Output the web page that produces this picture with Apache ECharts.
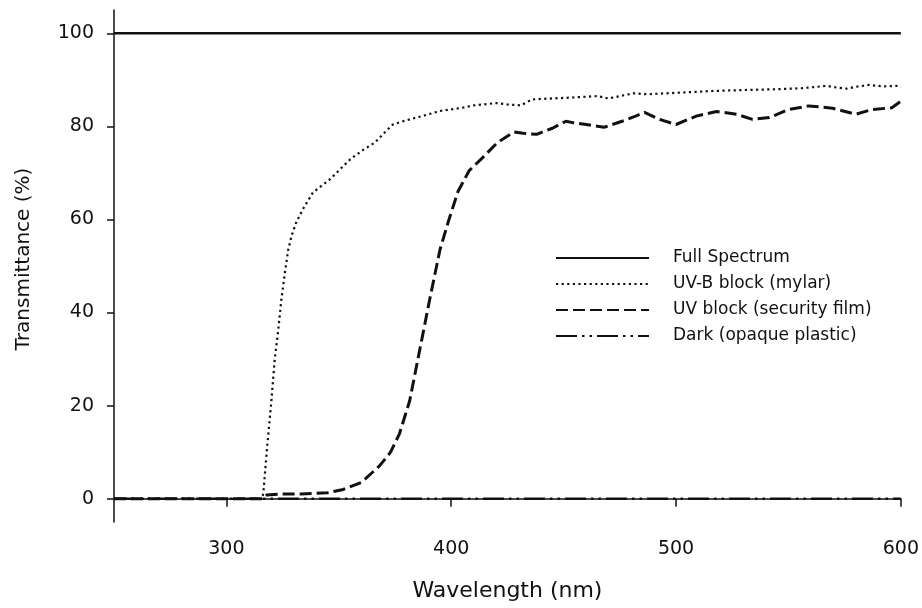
<!DOCTYPE html>
<html>
<head>
<meta charset="utf-8">
<script src="https://cdn.jsdelivr.net/npm/echarts@6/dist/echarts.min.js"></script>
<style>
html,body{margin:0;padding:0;background:#fff;}
#chart{width:922px;height:608px;}
</style>
</head>
<body>
<div id="chart"></div>
<script>
// ---- data ----
var seriesNames = ['Full Spectrum', 'UV-B block (mylar)', 'UV block (security film)', 'Dark (opaque plastic)'];

var fullWl = [250, 600];
var fullT  = [100, 100];

var mylarWl = [250, 316, 316.5, 318, 320, 321.5, 323, 324.5, 326, 327.5, 329, 331, 334, 338.5, 346, 355, 361, 366, 370, 374, 380, 387, 395, 405, 410, 420, 425, 431, 436, 445, 454, 465, 470, 481, 487, 500, 516, 530, 546, 556, 567, 572, 576, 580, 586, 592, 599, 600];
var mylarT  = [0, 0, 1.6, 10.5, 21, 30, 36, 43, 48.5, 53.5, 56.5, 59.3, 62.2, 65.8, 68.6, 72.9, 75, 76.5, 78.5, 80.4, 81.3, 82.2, 83.3, 84, 84.5, 85, 84.7, 84.5, 85.8, 86, 86.2, 86.5, 86, 87.1, 86.9, 87.2, 87.6, 87.8, 88, 88.2, 88.7, 88.3, 88.1, 88.5, 88.9, 88.6, 88.7, 88.5];

var filmWl = [250, 316, 318, 325, 333, 345, 352, 360, 368, 373, 377, 381.5, 386, 390.5, 395, 399, 403, 408, 414, 420.5, 428, 432, 438, 445, 451, 454, 460, 468, 476, 482, 486, 492.7, 500, 509, 518, 527, 534, 541.5, 550, 559, 569.6, 580, 587, 596, 600];
var filmT  = [0, 0, 0.8, 1, 1, 1.3, 2, 3.5, 7, 10, 14, 21, 32, 43, 53.5, 60, 66, 70.5, 73.3, 76.5, 78.8, 78.5, 78.3, 79.6, 81.1, 80.8, 80.4, 79.8, 81.1, 82.2, 83, 81.5, 80.4, 82.2, 83.2, 82.6, 81.5, 81.9, 83.6, 84.4, 83.9, 82.6, 83.6, 84, 85.4];

var darkWl = [250, 600];
var darkT  = [0, 0];

var xTicks = [300, 400, 500, 600];
var yTicks = [0, 20, 40, 60, 80, 100];

function pairs(xs, ys) { return xs.map(function (x, i) { return [x, ys[i]]; }); }

var FONT = 'DejaVu Sans';
var INK = '#111';

var chart = echarts.init(document.getElementById('chart'), null, {renderer: 'canvas'});
chart.setOption({
  animation: false,
  backgroundColor: '#fff',
  grid: {left: 114, right: 19, top: 10, bottom: 86, containLabel: false},
  legend: {
    orient: 'vertical',
    left: 555,
    top: 248,
    padding: 0,
    itemWidth: 93,
    itemHeight: 20,
    itemGap: 6,
    selectedMode: false,
    data: seriesNames,
    itemStyle: {opacity: 0},
    textStyle: {fontFamily: FONT, fontSize: 17, color: INK, lineHeight: 20, padding: [0, 0, 0, 19]}
  },
  xAxis: {
    type: 'value',
    min: 250,
    max: 600,
    name: 'Wavelength (nm)',
    nameLocation: 'middle',
    nameGap: 58,
    nameTextStyle: {fontFamily: FONT, fontSize: 22, color: INK},
    axisLine: {show: true, lineStyle: {color: INK, width: 1.5}},
    axisTick: {show: true, inside: false, length: 8, customValues: xTicks, lineStyle: {color: INK, width: 1.5}},
    axisLabel: {customValues: xTicks, margin: 18, fontFamily: FONT, fontSize: 19, color: INK},
    splitLine: {show: false}
  },
  yAxis: {
    type: 'value',
    min: -5,
    max: 105,
    name: 'Transmittance (%)',
    nameLocation: 'middle',
    nameGap: 80,
    nameTextStyle: {fontFamily: FONT, fontSize: 20, color: INK, padding: [0, 0, 0, 14]},
    axisLine: {show: true, lineStyle: {color: INK, width: 1.5}},
    axisTick: {show: true, inside: false, length: 7, customValues: yTicks, lineStyle: {color: INK, width: 1.5}},
    axisLabel: {customValues: yTicks, margin: 20, fontFamily: FONT, fontSize: 19, color: INK},
    splitLine: {show: false}
  },
  series: [
    {
      name: seriesNames[0], type: 'line', data: pairs(fullWl, fullT),
      symbol: 'none', silent: true, z: 2,
      lineStyle: {color: INK, width: 2.5, type: 'solid'}, itemStyle: {color: INK}
    },
    {
      name: seriesNames[1], type: 'line', data: pairs(mylarWl, mylarT),
      symbol: 'none', silent: true, z: 3,
      lineStyle: {color: INK, width: 2.2, type: [2.2, 3.4], cap: 'butt'}, itemStyle: {color: INK}
    },
    {
      name: seriesNames[2], type: 'line', data: pairs(filmWl, filmT),
      symbol: 'none', silent: true, z: 4,
      lineStyle: {color: INK, width: 3, type: [12, 5], cap: 'butt'}, itemStyle: {color: INK}
    },
    {
      name: seriesNames[3], type: 'line', data: pairs(darkWl, darkT),
      symbol: 'none', silent: true, z: 5,
      lineStyle: {color: INK, width: 2.5, type: [21, 5, 2.5, 5, 2.5, 5], cap: 'butt'}, itemStyle: {color: INK}
    }
  ]
});
</script>
</body>
</html>
